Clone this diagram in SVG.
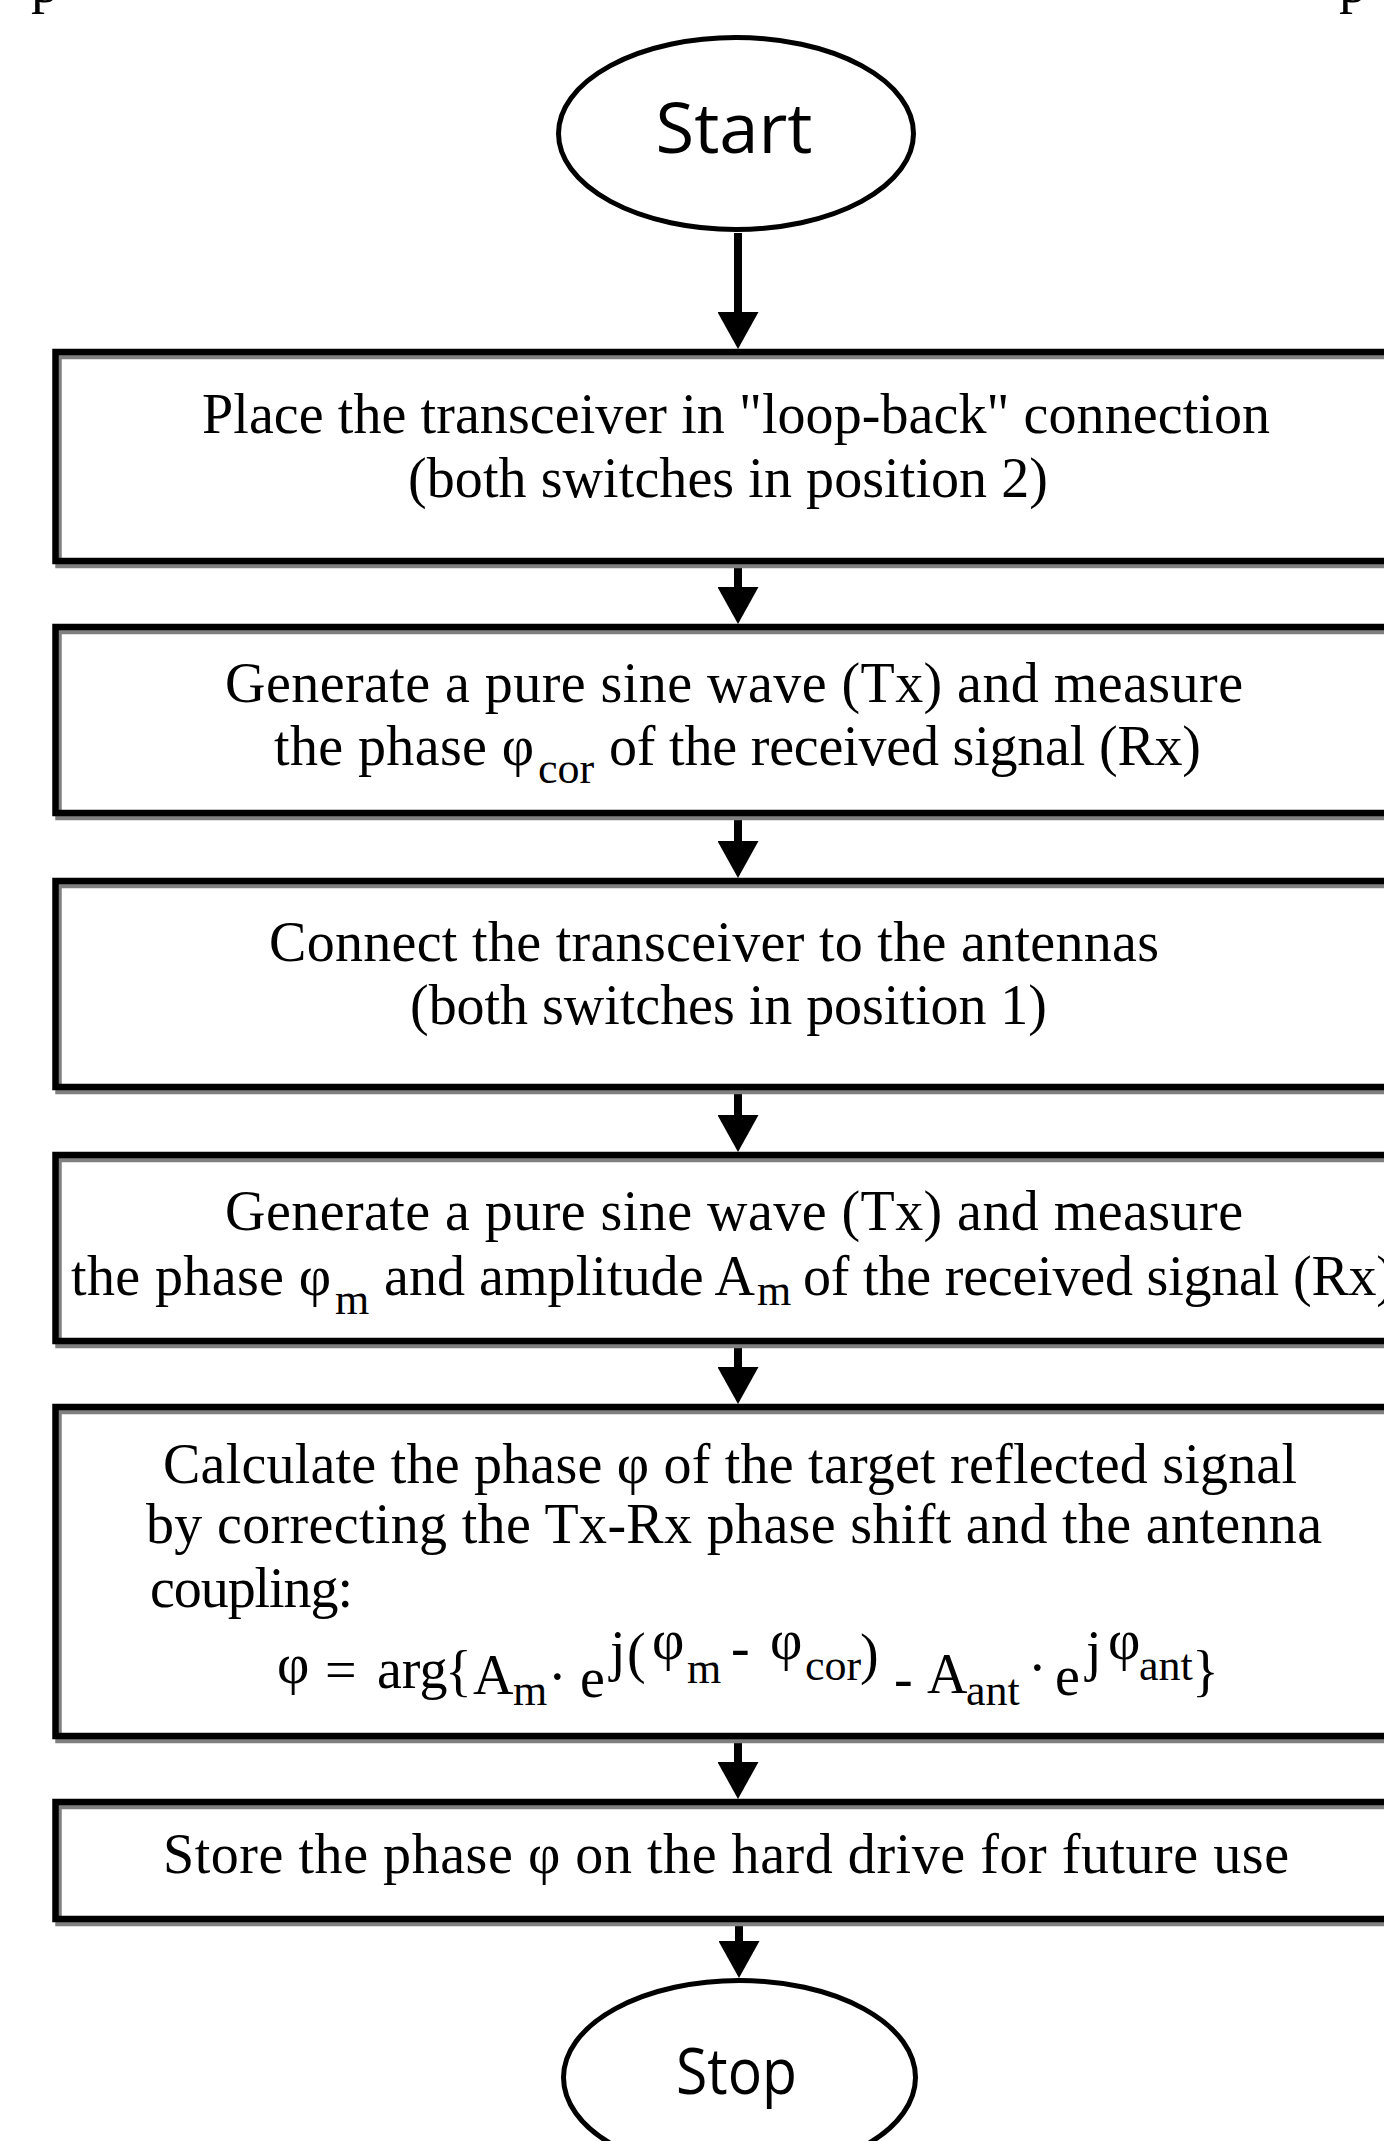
<svg xmlns="http://www.w3.org/2000/svg" width="1384" height="2141" viewBox="0 0 1384 2141">
  <style>
    .box{fill:none;stroke:#000;stroke-width:6.5}
    .shadow{fill:none;stroke:#808080;stroke-width:6.5}
    .term{fill:#fff;stroke:#000;stroke-width:5}
    .t{font-family:"Liberation Serif","Times New Roman",serif;font-size:56px;fill:#000}
    .sub{font-size:44px}
    .s{font-family:"Open Sans","Noto Sans",sans-serif;fill:#000}
    .conn{stroke:#000;stroke-width:8;fill:none}
  </style>
  <defs>
    <marker id="head" markerUnits="userSpaceOnUse" markerWidth="37" markerHeight="41" viewBox="0 0 37 41" refX="17" refY="20.5" orient="auto">
      <path d="M0,0 L37,20.5 L0,41 Z" fill="#000"/>
    </marker>
  </defs>

  <rect width="1384" height="2141" fill="#fff"/>

  <!-- descenders of the caption line above the chart -->
  <g id="caption-tail">
    <text class="t" x="31" y="2">p</text>
    <text class="t" x="1339" y="2">p</text>
  </g>

  <g id="connectors">
    <line class="conn" x1="738" y1="233" x2="738" y2="329" marker-end="url(#head)"/>
    <line class="conn" x1="738" y1="564" x2="738" y2="604" marker-end="url(#head)"/>
    <line class="conn" x1="738" y1="816" x2="738" y2="858" marker-end="url(#head)"/>
    <line class="conn" x1="738" y1="1090" x2="738" y2="1132" marker-end="url(#head)"/>
    <line class="conn" x1="738" y1="1344" x2="738" y2="1384" marker-end="url(#head)"/>
    <line class="conn" x1="738" y1="1739" x2="738" y2="1779" marker-end="url(#head)"/>
    <line class="conn" x1="739" y1="1922" x2="739" y2="1958" marker-end="url(#head)"/>
  </g>

  <g id="start">
    <ellipse class="term" cx="736" cy="133.5" rx="177.5" ry="96"/>
    <text class="s" x="734" y="153" text-anchor="middle" font-size="69" textLength="157" lengthAdjust="spacingAndGlyphs">Start</text>
  </g>

  <g id="step-loopback">
    <rect class="shadow" x="58.5" y="356" width="1400" height="209"/>
    <rect class="box" x="55.5" y="352" width="1400" height="209"/>
    <text class="t" x="202" y="433" textLength="1068">Place the transceiver in "loop-back" connection</text>
    <text class="t" x="408" y="497" textLength="640">(both switches in position 2)</text>
  </g>

  <g id="step-measure-cor">
    <rect class="shadow" x="58.5" y="631" width="1400" height="186"/>
    <rect class="box" x="55.5" y="627" width="1400" height="186"/>
    <text class="t" x="225" y="702" textLength="1018">Generate a pure sine wave (Tx) and measure</text>
    <text class="t" x="274" y="765" textLength="260">the phase φ</text>
    <text class="t sub" x="538" y="783">cor</text>
    <text class="t" x="609" y="765" textLength="592">of the received signal (Rx)</text>
  </g>

  <g id="step-antennas">
    <rect class="shadow" x="58.5" y="885" width="1400" height="206"/>
    <rect class="box" x="55.5" y="881" width="1400" height="206"/>
    <text class="t" x="269" y="961" textLength="890">Connect the transceiver to the antennas</text>
    <text class="t" x="410" y="1024" textLength="637">(both switches in position 1)</text>
  </g>

  <g id="step-measure-m">
    <rect class="shadow" x="58.5" y="1159" width="1400" height="186"/>
    <rect class="box" x="55.5" y="1155" width="1400" height="186"/>
    <text class="t" x="225" y="1230" textLength="1018">Generate a pure sine wave (Tx) and measure</text>
    <text class="t" x="71" y="1295" textLength="260">the phase φ</text>
    <text class="t sub" x="335" y="1314">m</text>
    <text class="t" x="384" y="1295" textLength="371">and amplitude A</text>
    <text class="t sub" x="757" y="1305">m</text>
    <text class="t" x="803" y="1295" textLength="592">of the received signal (Rx)</text>
  </g>

  <g id="step-calculate">
    <rect class="shadow" x="58.5" y="1411" width="1400" height="329"/>
    <rect class="box" x="55.5" y="1407" width="1400" height="329"/>
    <text class="t" x="163" y="1483" textLength="1134">Calculate the phase φ of the target reflected signal</text>
    <text class="t" x="146" y="1543" textLength="1176">by correcting the Tx-Rx phase shift and the antenna</text>
    <text class="t" x="150" y="1607" textLength="203">coupling:</text>
    <!-- phase formula -->
    <g id="formula">
      <text class="t" x="277" y="1683">φ</text>
      <text class="t" x="325" y="1689">=</text>
      <text class="t" x="377" y="1688">arg</text>
      <text class="t" x="445" y="1690">{</text>
      <text class="t" x="473" y="1694">A</text>
      <text class="t sub" x="513" y="1705">m</text>
      <text class="t" x="548" y="1696">·</text>
      <text class="t" x="580" y="1697">e</text>
      <text class="t" x="610" y="1670">j</text>
      <text class="t" x="627" y="1672">(</text>
      <text class="t" x="652" y="1659">φ</text>
      <text class="t sub" x="687" y="1683">m</text>
      <text class="t" x="731" y="1666">-</text>
      <text class="t" x="770" y="1659">φ</text>
      <text class="t sub" x="805" y="1680">cor</text>
      <text class="t" x="860" y="1673">)</text>
      <text class="t" x="894" y="1697">-</text>
      <text class="t" x="927" y="1693">A</text>
      <text class="t sub" x="966" y="1705">ant</text>
      <text class="t" x="1028" y="1687">·</text>
      <text class="t" x="1055" y="1695">e</text>
      <text class="t" x="1086" y="1670">j</text>
      <text class="t" x="1108" y="1659">φ</text>
      <text class="t sub" x="1139" y="1680">ant</text>
      <text class="t" x="1192" y="1690">}</text>
    </g>
  </g>

  <g id="step-store">
    <rect class="shadow" x="58.5" y="1806" width="1400" height="117"/>
    <rect class="box" x="55.5" y="1802" width="1400" height="117"/>
    <text class="t" x="163" y="1873" textLength="1126">Store the phase φ on the hard drive for future use</text>
  </g>

  <g id="stop">
    <ellipse class="term" cx="739.5" cy="2077.5" rx="176" ry="97"/>
    <text class="s" x="736.5" y="2094" text-anchor="middle" font-size="64" textLength="121" lengthAdjust="spacingAndGlyphs">Stop</text>
  </g>
</svg>
